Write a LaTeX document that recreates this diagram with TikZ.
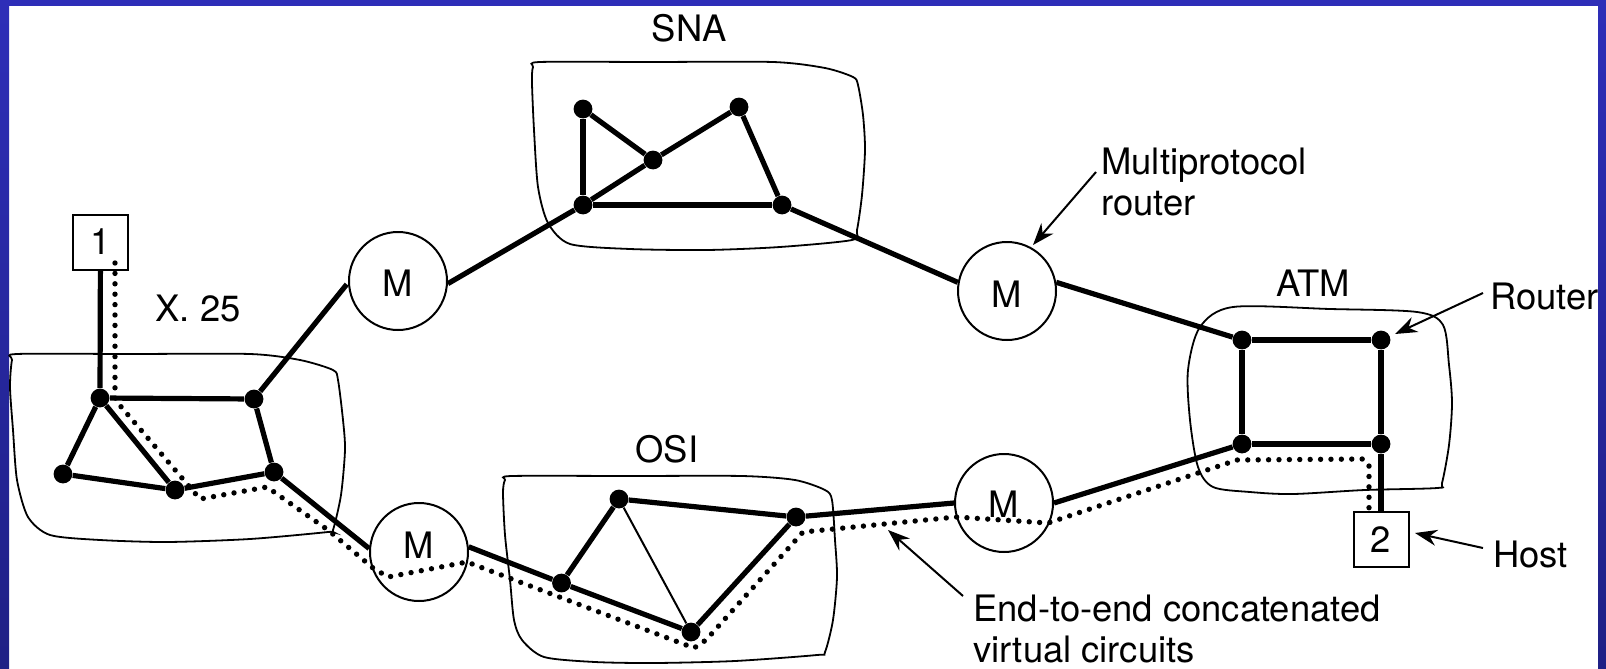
\documentclass[tikz,border=0pt]{standalone}
\usepackage{fontspec}
\setmainfont{TeX Gyre Heros}
\usetikzlibrary{arrows.meta}
\definecolor{frameTop}{HTML}{2E2EB8}
\definecolor{frameBot}{HTML}{1F2085}
\newcommand{\mlabel}[1]{\smash{\raisebox{#1}{M}}}
\tikzset{
  router/.style={circle,fill=black,draw=none,minimum size=9.4pt,inner sep=0pt},
  mux/.style={circle,draw=black,line width=1pt,minimum size=49pt,inner sep=0pt},
  hostbox/.style={rectangle,draw=black,line width=1pt,minimum size=27.5pt,inner sep=0pt},
  link/.style={line width=2.6pt},
  thinlink/.style={line width=1pt},
  blob/.style={line width=0.9pt,draw=black},
  vc/.style={line width=2.7pt,line cap=round,dash pattern=on 0pt off 5.2pt,line join=round},
  pointer/.style={line width=1pt,-{Stealth[length=11pt,width=8pt]}},
  lab/.style={inner sep=0pt,font=\fontsize{18.2}{20.2}\selectfont}
}
\begin{document}
\begin{tikzpicture}[x=0.5pt,y=-0.5pt]
\useasboundingbox (0,0) rectangle (1606,669);
\fill[white] (0,0) rectangle (1606,669);
\shade[top color=frameTop,bottom color=frameBot,draw=none] (0,0) rectangle (9,669);
\shade[top color=frameTop,bottom color=frameBot,draw=none] (1598,0) rectangle (1606,669);
\fill[frameTop] (0,0) rectangle (1606,6);
% network outlines
\draw[blob] plot[smooth cycle,tension=0.45] coordinates {(12,360) (17,354) (130,354) (250,354) (300,360) (333,370) (338,380) (343,420) (345,450) (341,495) (333,530) (328,532) (250,539) (167,542) (100,540) (50,535) (28,517) (17,480) (13,430) (10,387)};
\draw[blob] plot[smooth cycle,tension=0.45] coordinates {(533,67) (540,62) (650,62) (773,62) (825,68) (853,77) (858,85) (863,115) (865,150) (862,195) (857,230) (852,240) (780,247) (707,250) (630,249) (570,244) (548,223) (538,187) (534,130) (532,83)};
\draw[blob] plot[smooth cycle,tension=0.45] coordinates {(505,480) (512,476) (630,476) (742,476) (795,480) (825,490) (832,500) (835,540) (837,577) (833,620) (825,652) (817,655) (735,661) (655,663) (595,662) (544,657) (522,640) (514,620) (510,580) (505,535) (503,493)};
\draw[blob] plot[smooth cycle,tension=0.5] coordinates {(1188,370) (1200,327) (1233,307) (1330,309) (1417,312) (1443,325) (1449,365) (1452,403) (1449,445) (1442,483) (1437,488) (1365,490) (1293,494) (1250,492) (1213,487) (1198,467) (1190,420)};
% routers
\node[router] (xa) at (100,398) {};
\node[router] (xb) at (254,399) {};
\node[router] (xc) at (63,474) {};
\node[router] (xd) at (175,490) {};
\node[router] (xe) at (274,472) {};
\node[router] (sa) at (583,109) {};
\node[router] (sb) at (739,107) {};
\node[router] (sc) at (653,160) {};
\node[router] (sd) at (583,205) {};
\node[router] (se) at (782,205) {};
\node[router] (op) at (619,499) {};
\node[router] (oq) at (796,517) {};
\node[router] (or) at (561.5,583) {};
\node[router] (os) at (691,632) {};
\node[router] (ap) at (1242,340) {};
\node[router] (aq) at (1381,340) {};
\node[router] (ar) at (1242,444) {};
\node[router] (as) at (1381,444) {};
% multiprotocol routers and hosts
\node[mux,lab] (m1) at (398,281) {\mlabel{-7.5pt}};
\node[mux,lab] (m2) at (419,552) {\mlabel{-3pt}};
\node[mux,lab] (m3) at (1007,291) {\mlabel{-8pt}};
\node[mux,lab] (m4) at (1004,503) {\mlabel{-7pt}};
\node[hostbox,lab] (h1) at (100.5,242) {1};
\node[hostbox,lab] (h2) at (1381,539.5) {2};
% links
\draw[link] (h1) -- (xa);
\draw[link] (xa) -- (xb);
\draw[link] (xa) -- (xc);
\draw[link] (xa) -- (xd);
\draw[link] (xc) -- (xd);
\draw[link] (xd) -- (xe);
\draw[link] (xb) -- (xe);
\draw[link,shorten >=1pt] (xb) -- (m1.182);
\draw[link] (xe) -- (m2.176);
\draw[link] (m1.-3) -- (sd);
\draw[link] (sa) -- (sd);
\draw[link] (sa) -- (sc);
\draw[link] (sd) -- (sc);
\draw[link] (sc) -- (sb);
\draw[link] (sb) -- (se);
\draw[link] (sd) -- (se);
\draw[link] (se) -- (m3.170);
\draw[link] (m3.10) -- (ap);
\draw[link] (ap) -- (aq);
\draw[link] (ap) -- (ar);
\draw[link] (aq) -- (as);
\draw[link] (ar) -- (as);
\draw[link] (as) -- (h2);
\draw[link] (m4.0) -- (ar);
\draw[link] (oq) -- (m4.180);
\draw[link] (op) -- (oq);
\draw[link] (op) -- (or);
\draw[thinlink] (op) -- (os);
\draw[link] (or) -- (os);
\draw[link] (os) -- (oq);
\draw[link] (m2.6) -- (or);
% end-to-end virtual circuit
\coordinate (v0) at (115,263);
\coordinate (v1) at (115,397);
\coordinate (v2) at (117,402);
\coordinate (v3) at (188,485);
\coordinate (v4) at (200,499);
\coordinate (v5) at (267,487);
\coordinate (v6) at (328,530);
\coordinate (v7) at (373,568);
\coordinate (v8) at (388,577);
\coordinate (v9) at (467,562);
\coordinate (v10) at (694,648);
\coordinate (v11) at (706,640);
\coordinate (v12) at (803,532);
\coordinate (v13) at (956,517);
\coordinate (v14) at (1048,523);
\coordinate (v15) at (1237,460);
\coordinate (v16) at (1363,459);
\coordinate (v17) at (1369,465);
\coordinate (v18) at (1369,510);
\draw[vc] (v0) -- (v1) -- (v2) -- (v3) -- (v4) -- (v5) -- (v6) -- (v7) -- (v8) -- (v9) -- (v10) -- (v11) -- (v12) -- (v13) -- (v14) -- (v15) -- (v16) -- (v17) -- (v18);
% labels
\node[lab] (lsna) at (689,28) {SNA};
\node[lab] (lx) at (198,309) {X. 25};
\node[lab] (losi) at (667,449) {OSI};
\node[lab] (latm) at (1313,283) {ATM};
\node[lab,anchor=west] (lrouter) at (1490,297) {Router};
\node[lab,anchor=west] (lhost) at (1493,554) {Host};
\node[lab,anchor=west,align=left] (lmp) at (1101,182) {Multiprotocol\\router};
\node[lab,anchor=west,align=left] (lvc) at (973,629) {End-to-end concatenated\\virtual circuits};
% pointers
\coordinate (pm0) at (1096,172);
\coordinate (pm1) at (1033,245);
\coordinate (pr0) at (1483,293);
\coordinate (pr1) at (1395,334);
\coordinate (ph0) at (1483,548);
\coordinate (ph1) at (1415,533);
\coordinate (pv0) at (963,596);
\coordinate (pv1) at (888,530);
\draw[pointer] (pm0) -- (pm1);
\draw[pointer] (pr0) -- (pr1);
\draw[pointer] (ph0) -- (ph1);
\draw[pointer] (pv0) -- (pv1);
\end{tikzpicture}
\end{document}
